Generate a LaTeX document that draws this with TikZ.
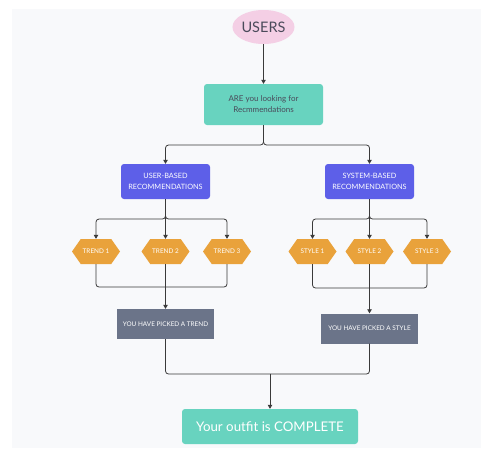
\documentclass[tikz,border=0pt]{standalone}
\usepackage{fontspec}
\setmainfont{Lato}
\usetikzlibrary{shapes.geometric,shapes.symbols,arrows.meta}
\definecolor{bgc}{HTML}{F8F9FB}
\definecolor{pinkc}{HTML}{F4CFE5}
\definecolor{tealc}{HTML}{68D3BF}
\definecolor{purplec}{HTML}{5D5FE8}
\definecolor{orangec}{HTML}{E9A23B}
\definecolor{slatec}{HTML}{6B7489}
\definecolor{inkc}{HTML}{4A4A5A}
\definecolor{linec}{HTML}{3A3A3A}
\tikzset{
  box/.style={rectangle, rounded corners=3pt, inner sep=1pt, align=center},
  topbox/.style={box, fill=tealc, text=inkc, font=\fontsize{8}{11}\selectfont},
  recbox/.style={box, fill=purplec, text=white, font=\fontsize{7.3}{10.5}\selectfont, minimum width=89pt, minimum height=35pt},
  pickbox/.style={rectangle, inner sep=1pt, fill=slatec, text=white, font=\fontsize{6.4}{8}\selectfont, minimum width=97pt, minimum height=30pt},
  hexbox/.style={signal, signal to=east and west, signal pointer angle=110, fill=orangec, text=white, font=\fontsize{6.4}{8}\selectfont, minimum width=48pt, minimum height=25pt, inner xsep=1pt, inner ysep=0pt},
  conn/.style={draw=linec, line width=0.8pt, rounded corners=3pt},
  arr/.style={conn, -{Triangle[length=4pt,width=4.5pt]}}
}
\begin{document}
\begin{tikzpicture}[x=1pt,y=-1pt]
\useasboundingbox (0,0) rectangle (481,448);
\fill[bgc] (12,9) rectangle (481,448);

\node[ellipse, fill=pinkc, text=inkc, minimum width=61pt, minimum height=34pt, inner sep=0pt, font=\fontsize{14.5}{16}\selectfont] (users) at (263.5,27) {USERS};
\node[topbox, minimum width=119pt, minimum height=41pt] (ask) at (263.5,104.5) {ARE you looking for\\Recmmendations};

\node[recbox] (ub) at (165.5,181.5) {USER-BASED\\RECOMMENDATIONS};
\node[recbox] (sb) at (369.5,181.5) {SYSTEM-BASED\\RECOMMENDATIONS};

\node[hexbox] (t1) at (96,251.5) {TREND 1};
\node[hexbox] (t2) at (165.5,251.5) {TREND 2};
\node[hexbox] (t3) at (227,251.5) {TREND 3};
\node[hexbox] (s1) at (312.5,251.5) {STYLE 1};
\node[hexbox] (s2) at (369.5,251.5) {STYLE 2};
\node[hexbox] (s3) at (427,251.5) {STYLE 3};

\node[pickbox] (pt) at (165.5,324) {YOU HAVE PICKED A TREND};
\node[pickbox] (ps) at (369.5,328.5) {YOU HAVE PICKED A STYLE};

\node[box, fill=tealc, text=white, minimum width=176pt, minimum height=35pt, font=\fontsize{13.3}{15}\selectfont] (done) at (270,426.5) {Your outfit is COMPLETE};

% split and join points
\coordinate (sp) at (263.5,145);
\coordinate (ubs) at (165.5,219);
\coordinate (sbs) at (369.5,219);
\coordinate (ubj) at (165.5,287);
\coordinate (sbj) at (369.5,288);
\coordinate (fj) at (270,374);

\draw[arr] (users) -- (ask);
\draw[arr] (ask.south) -- (sp) -| (ub.north);
\draw[arr] (ask.south) -- (sp) -| (sb.north);

\draw[arr] (ub.south) -- (ubs) -| (t1.north);
\draw[arr] (ub.south) -- (ubs) -| (t3.north);
\draw[arr] (ub.south) -- (t2.north);
\draw[conn] (t1.south) |- (ubj);
\draw[conn] (t3.south) |- (ubj);
\draw[arr] (t2.south) -- (pt.north);

\draw[arr] (sb.south) -- (sbs) -| (s1.north);
\draw[arr] (sb.south) -- (sbs) -| (s3.north);
\draw[arr] (sb.south) -- (s2.north);
\draw[conn] (s1.south) |- (sbj);
\draw[conn] (s3.south) |- (sbj);
\draw[arr] (s2.south) -- (ps.north);

\draw[conn] (pt.south) |- (fj);
\draw[conn] (ps.south) |- (fj);
\draw[arr] (fj) -- (done.north);
\end{tikzpicture}
\end{document}
